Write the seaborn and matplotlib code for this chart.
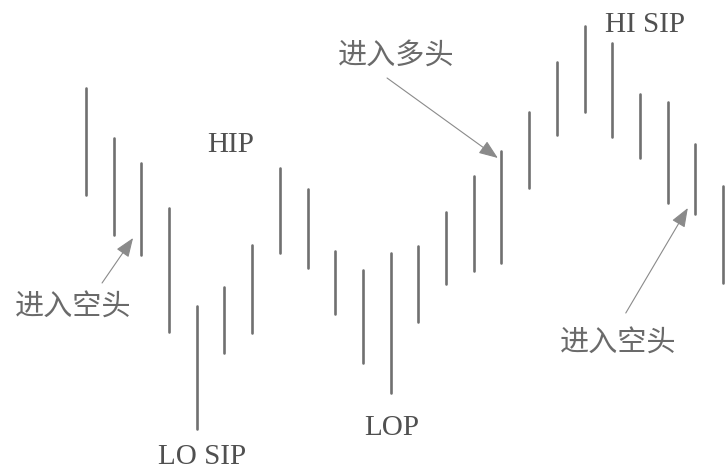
import matplotlib
matplotlib.use("Agg")
import matplotlib.pyplot as plt
import seaborn as sns
import pandas as pd

# price bars (high / low), one per period
bar_idx = list(range(24))
highs = [382, 332, 307, 262, 164, 183, 225, 302, 281, 219, 200, 217,
         224, 258, 294, 319, 358, 408, 444, 427, 376, 368, 326, 284]
lows = [275, 235, 215, 138, 41, 117, 137, 217, 202, 156, 107, 77,
        148, 186, 199, 207, 282, 335, 358, 333, 312, 267, 256, 187]

# pivot labels
pivot_labels = ["HIP", "LO SIP", "LOP", "HI SIP"]
pivot_x = [5.23, 4.19, 11.05, 20.18]
pivot_y = [318, 6, 35, 438]

# entry notes: text, text position, arrow tail, arrow tip
entry_labels = ["进入空头", "进入多头", "进入空头"]
entry_text_x = [-0.47, 11.19, 19.21]
entry_text_y = [162, 414, 126]
tail_x = [0.58, 10.87, 19.49]
tail_y = [187, 392, 157]
tip_x = [1.70, 14.87, 21.73]
tip_y = [232, 312, 262]

df = pd.DataFrame({
    "bar": bar_idx + bar_idx,
    "price": highs + lows,
})

sns.set_style("white")
plt.rcParams['font.family'] = ['Noto Sans CJK SC', 'DejaVu Sans']

fig = plt.figure(figsize=(7.26, 4.70), dpi=100)
ax = fig.add_axes([0, 0, 1, 1])
sns.lineplot(data=df, x="bar", y="price", units="bar", estimator=None,
             color="#707070", lw=1.9, ax=ax)

for lab, x, y in zip(pivot_labels, pivot_x, pivot_y):
    ax.text(x, y, lab, ha="center", va="baseline", fontsize=21,
            family=["Liberation Serif"], color="#505050")

for lab, x, y in zip(entry_labels, entry_text_x, entry_text_y):
    ax.text(x, y, lab, ha="center", va="center", fontsize=21,
            fontweight="light", color="#6a6a6a")

for x0, y0, x1, y1 in zip(tail_x, tail_y, tip_x, tip_y):
    ax.annotate("", xy=(x1, y1), xytext=(x0, y0),
                arrowprops=dict(arrowstyle="-|>,head_length=0.65,head_width=0.25",
                                mutation_scale=18, color="#8a8a8a", lw=0.8,
                                shrinkA=0, shrinkB=0))

ax.set_xlim(-86 / 27.7, 23 + 3 / 27.7)
ax.set_ylim(0, 470)
ax.axis("off")
fig.savefig("out.png", dpi=100, facecolor="white")
